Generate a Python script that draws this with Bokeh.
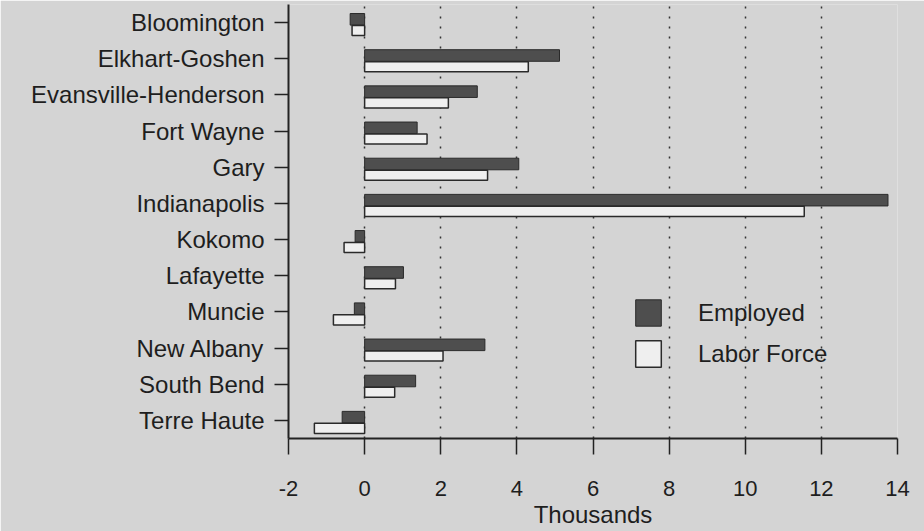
from bokeh.plotting import figure
from bokeh.models import FactorRange, Range1d, FixedTicker, Legend, LegendItem
from bokeh.transform import dodge
from bokeh.embed import file_html
from bokeh.resources import INLINE
from bokeh.models import ColumnDataSource

cities = ["Bloomington", "Elkhart-Goshen", "Evansville-Henderson", "Fort Wayne",
          "Gary", "Indianapolis", "Kokomo", "Lafayette", "Muncie", "New Albany",
          "South Bend", "Terre Haute"]
employed = [-0.38, 5.12, 2.96, 1.38, 4.05, 13.75, -0.25, 1.02, -0.27, 3.16, 1.34, -0.59]
labor_force = [-0.33, 4.30, 2.20, 1.64, 3.23, 11.55, -0.54, 0.81, -0.82, 2.06, 0.79, -1.32]
x_ticks = [-2, 0, 2, 4, 6, 8, 10, 12, 14]
x_tick_labels = ["-2", "0", "2", "4", "6", "8", "10", "12", "14"]

BG = "#d4d4d4"
FONT = "Liberation Sans"

src = ColumnDataSource(dict(city=cities, employed=employed, labor=labor_force))

p = figure(width=924, height=531, output_backend="svg", toolbar_location=None,
           y_range=FactorRange(factors=list(reversed(cities))),
           x_range=Range1d(-2, 14),
           min_border_left=288, min_border_right=27, min_border_top=4, min_border_bottom=93)
p.background_fill_color = BG
p.border_fill_color = BG
p.outline_line_color = None

r1 = p.hbar(y=dodge("city", 0.09, range=p.y_range), left=0, right="employed", height=0.32,
            source=src, fill_color="#4e4e4e", line_color="#2a2a2a", line_width=1)
r2 = p.hbar(y=dodge("city", -0.22, range=p.y_range), left=0, right="labor", height=0.28,
            source=src, fill_color="#efefef", line_color="#2a2a2a", line_width=1.5)

# axes
p.xaxis.ticker = FixedTicker(ticks=x_ticks)
p.xaxis.major_label_overrides = {t: l for t, l in zip(x_ticks, x_tick_labels)}
p.xaxis.axis_label = "Thousands"
p.xaxis.axis_label_text_font = FONT
p.xaxis.axis_label_text_font_size = "24px"
p.xaxis.axis_label_text_font_style = "normal"
p.xaxis.axis_label_text_color = "#1e1e1e"
p.xaxis.axis_label_standoff = 2
p.xaxis.major_label_text_font = FONT
p.xaxis.major_label_text_font_size = "22px"
p.xaxis.major_label_text_color = "#1e1e1e"
p.xaxis.major_label_standoff = 26
p.xaxis.major_tick_in = 0
p.xaxis.major_tick_out = 16
p.xaxis.minor_tick_line_color = None

p.yaxis.major_label_text_font = FONT
p.yaxis.major_label_text_font_size = "24px"
p.yaxis.major_label_text_color = "#1e1e1e"
p.yaxis.major_label_standoff = 10
p.yaxis.major_tick_in = 0
p.yaxis.major_tick_out = 14

for ax in (p.xaxis, p.yaxis):
    ax.axis_line_color = "#222222"
    ax.axis_line_width = 2
    ax.major_tick_line_color = "#222222"
    ax.major_tick_line_width = 1.5

p.xgrid.ticker = FixedTicker(ticks=x_ticks)
p.xgrid.grid_line_color = "#333333"
p.xgrid.grid_line_dash = "2 8"
p.xgrid.grid_line_width = 1.5
p.ygrid.grid_line_color = None

legend = Legend(items=[LegendItem(label="Employed", renderers=[r1]),
                       LegendItem(label="Labor Force", renderers=[r2])],
                location=(344, 68), orientation="vertical")
legend.background_fill_alpha = 0
legend.border_line_color = None
legend.padding = 0
legend.margin = 0
legend.glyph_width = 32
legend.glyph_height = 33
legend.spacing = 8
legend.label_standoff = 34
legend.label_text_font = FONT
legend.label_text_font_size = "24px"
legend.label_text_color = "#1e1e1e"
p.add_layout(legend, "center")

open("out.html", "w").write(file_html(p, INLINE))
